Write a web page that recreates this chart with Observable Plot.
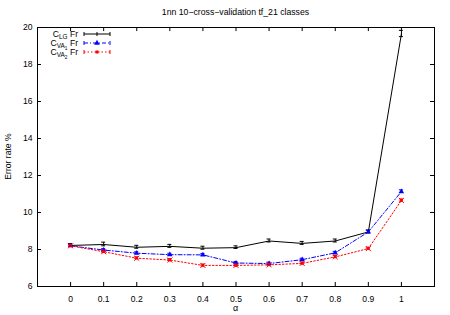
<!DOCTYPE html>
<html>
<head>
<meta charset="utf-8">
<script src="https://cdn.jsdelivr.net/npm/d3@7"></script>
<script src="https://cdn.jsdelivr.net/npm/@observablehq/plot@0.6"></script>
<style>
body{margin:0;background:#fff;}
svg{font-family:"Liberation Sans",Arial,sans-serif;}
</style>
</head>
<body>
<div id="chart"></div>
<script>
const alpha = [0, 0.1, 0.2, 0.3, 0.4, 0.5, 0.6, 0.7, 0.8, 0.9, 1];
const clg = [8.22, 8.27, 8.12, 8.17, 8.07, 8.1, 8.46, 8.33, 8.46, 8.95, 19.65];
const clgErr = [0.07, 0.1, 0.08, 0.08, 0.08, 0.07, 0.08, 0.08, 0.08, 0.08, 0.17];
const cva1 = [8.2, 7.97, 7.8, 7.72, 7.71, 7.27, 7.24, 7.45, 7.82, 8.95, 11.13];
const cva1Err = [0.05, 0.05, 0.05, 0.05, 0.05, 0.05, 0.05, 0.05, 0.05, 0.06, 0.07];
const cva2 = [8.2, 7.88, 7.53, 7.43, 7.14, 7.14, 7.17, 7.25, 7.6, 8.05, 10.65];
const cva2Err = [0.05, 0.05, 0.05, 0.05, 0.05, 0.05, 0.05, 0.05, 0.05, 0.05, 0.06];
const xTicks = [0, 0.1, 0.2, 0.3, 0.4, 0.5, 0.6, 0.7, 0.8, 0.9, 1];
const yTicks = [6, 8, 10, 12, 14, 16, 18, 20];
const xDomain = [-0.1, 1.1];
const yDomain = [6, 20];
const titleText = "1nn 10\u2212cross\u2212validation tf_21 classes";
const xLabel = "\u03b1";
const yLabel = "Error rate %";
const seriesNames = [["C", "LG", " Fr"], ["C", "VA", "1", " Fr"], ["C", "VA", "2", " Fr"]];

const mk = (vals, errs, name) => alpha.map((a, i) => ({alpha: a, v: vals[i], lo: vals[i] - errs[i], hi: vals[i] + errs[i], s: name}));
const dLG = mk(clg, clgErr, "LG");
const dV1 = mk(cva1, cva1Err, "V1");
const dV2 = mk(cva2, cva2Err, "V2");

const plot = Plot.plot({
  width: 450,
  height: 315,
  marginLeft: 37,
  marginRight: 16,
  marginTop: 27,
  marginBottom: 29,
  style: {fontFamily: "'Liberation Sans', Arial, sans-serif", fontSize: "8.6px", background: "#fff", color: "#000"},
  x: {type: "linear", domain: xDomain},
  y: {type: "linear", domain: yDomain},
  marks: [
    Plot.frame({stroke: "#000", strokeWidth: 1}),
    Plot.axisX({ticks: xTicks, tickSize: 0, tickPadding: 9, tickFormat: d => String(d), label: null}),
    Plot.axisY({ticks: yTicks, tickSize: 0, tickPadding: 5, tickFormat: d => String(d), label: null}),
    Plot.ruleX(xTicks, {x: d => d, y1: 6, y2: 6.22, stroke: "#000"}),
    Plot.ruleX(xTicks, {x: d => d, y1: 20, y2: 19.78, stroke: "#000"}),
    Plot.ruleY(yTicks, {y: d => d, x1: -0.1, x2: -0.088, stroke: "#000"}),
    Plot.ruleY(yTicks, {y: d => d, x1: 1.1, x2: 1.088, stroke: "#000"}),
    Plot.line(dLG, {x: "alpha", y: "v", stroke: "#000", strokeWidth: 1}),
    Plot.line(dV1, {x: "alpha", y: "v", stroke: "#0000ff", strokeWidth: 1, strokeDasharray: "4,2,1,2"}),
    Plot.line(dV2, {x: "alpha", y: "v", stroke: "#ff0000", strokeWidth: 1, strokeDasharray: "1.5,2"}),
    Plot.ruleX(dLG, {x: "alpha", y1: "lo", y2: "hi", stroke: "#000"}),
    Plot.ruleX(dV1, {x: "alpha", y1: "lo", y2: "hi", stroke: "#0000ff"}),
    Plot.ruleX(dV2, {x: "alpha", y1: "lo", y2: "hi", stroke: "#ff0000"}),
    Plot.dot(dV1, {x: "alpha", y: "v", symbol: "triangle", fill: "#0000ff", r: 2}),
    Plot.dot(dV2, {x: "alpha", y: "v", symbol: "square", fill: "#ff0000", r: 1.5}),
    Plot.dot(dV2, {x: "alpha", y: "v", symbol: "times", stroke: "#ff0000", r: 2.4, strokeWidth: 1}),
  ]
});

document.getElementById("chart").appendChild(plot);
const svg = d3.select(plot);
const sx = plot.scale("x"), sy = plot.scale("y");
const capG = svg.append("g");
[[dLG, "#000"], [dV1, "#0000ff"], [dV2, "#ff0000"]].forEach(([data, c]) => {
  data.forEach(d => {
    [d.lo, d.hi].forEach(v => {
      capG.append("line")
        .attr("x1", sx.apply(d.alpha) - 2).attr("x2", sx.apply(d.alpha) + 2)
        .attr("y1", sy.apply(v)).attr("y2", sy.apply(v))
        .attr("stroke", c).attr("stroke-width", 1);
    });
  });
});

svg.append("text").attr("x", (37 + 434) / 2).attr("y", 15).attr("text-anchor", "middle")
  .attr("font-size", 8.7).attr("fill", "#000").text(titleText);
svg.append("text").attr("x", sx.apply(0.5)).attr("y", 311).attr("text-anchor", "middle")
  .attr("font-size", 9).attr("fill", "#000").text(xLabel);
svg.append("text").attr("transform", `translate(11,${(27 + 286) / 2}) rotate(-90)`).attr("text-anchor", "middle")
  .attr("font-size", 8.6).attr("fill", "#000").text(yLabel);

const legY = [37, 46, 55];
const legColors = ["#000", "#0000ff", "#ff0000"];
const legDash = [null, "4,2,1,2", "1.5,2"];
seriesNames.forEach((parts, i) => {
  const t = svg.append("text").attr("x", 78).attr("y", legY[i]).attr("text-anchor", "end")
    .attr("font-size", 8.6).attr("fill", "#000");
  t.append("tspan").text(parts[0]);
  if (parts.length === 3) {
    t.append("tspan").attr("font-size", 6.4).attr("dy", 2).text(parts[1]);
    t.append("tspan").attr("dy", -2).text(parts[2]);
  } else {
    t.append("tspan").attr("font-size", 6.4).attr("dy", 2).text(parts[1]);
    t.append("tspan").attr("font-size", 4.8).attr("dy", 1.5).text(parts[2]);
    t.append("tspan").attr("dy", -3.5).text(parts[3]);
  }
  const ly = legY[i] - 3;
  const g = svg.append("g").attr("stroke", legColors[i]).attr("stroke-width", 1);
  g.append("line").attr("x1", 84).attr("x2", 110).attr("y1", ly).attr("y2", ly).attr("stroke-dasharray", legDash[i]);
  g.append("line").attr("x1", 84).attr("x2", 84).attr("y1", ly - 2).attr("y2", ly + 2);
  g.append("line").attr("x1", 110).attr("x2", 110).attr("y1", ly - 2).attr("y2", ly + 2);
  if (i === 0) g.append("line").attr("x1", 97).attr("x2", 97).attr("y1", ly - 2).attr("y2", ly + 2);
  if (i === 1) svg.append("path").attr("d", d3.symbol(d3.symbolTriangle, 14)()).attr("transform", `translate(97,${ly})`).attr("fill", legColors[i]);
  if (i === 2) svg.append("rect").attr("x", 95.5).attr("y", ly - 1.5).attr("width", 3).attr("height", 3).attr("fill", legColors[i]);
});
</script>
</body>
</html>
